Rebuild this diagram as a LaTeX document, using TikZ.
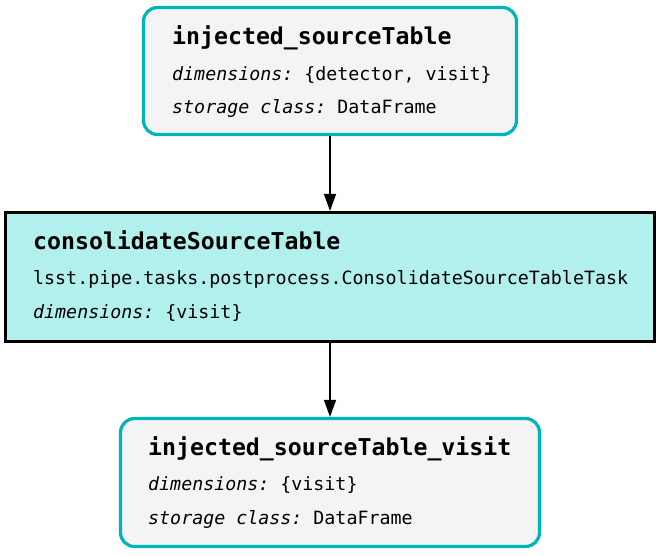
\documentclass[tikz,border=0pt]{standalone}
\usepackage{fontspec}
\setmonofont{DejaVu Sans Mono}
\usetikzlibrary{arrows.meta}
\definecolor{dsedge}{RGB}{0,181,186}
\definecolor{dsfill}{RGB}{244,244,244}
\definecolor{taskfill}{RGB}{178,240,238}

\begin{document}
\begin{tikzpicture}[x=1pt,y=-1pt]
				\tikzset{dataset/.style={draw=dsedge,fill=dsfill,line width=3.2pt,rounded corners=14pt,inner sep=0pt}}
				\tikzset{task/.style={draw=black,fill=taskfill,line width=3.2pt,inner sep=0pt}}
				\tikzset{title/.style={anchor=base west,inner sep=0pt,font=\fontsize{23.2}{23}\selectfont\ttfamily\bfseries}}
				\tikzset{info/.style={anchor=base west,inner sep=0pt,font=\fontsize{18.3}{18}\selectfont\ttfamily}}
				\tikzset{edge/.style={-{Triangle[length=17pt,width=12pt]},line width=1.6pt}}
				\useasboundingbox (0,0) rectangle (661,555);
				% boxes
				\node[dataset,minimum width=373pt,minimum height=127pt] (src) at (330,71) {};
				\node[task,minimum width=649pt,minimum height=129pt] (cons) at (330,277) {};
				\node[dataset,minimum width=419pt,minimum height=128pt] (vis) at (330,482.5) {};
				% texts
				\node[title] (srcname) at (172,44) {injected\_sourceTable};
				\node[info] (srcdim) at (172,80) {\textit{dimensions:} \{detector, visit\}};
				\node[info] (srcsc) at (172,113) {\textit{storage class:} DataFrame};
				\node[title] (consname) at (33,249) {consolidateSourceTable};
				\node[info] (conscls) at (33,284) {lsst.pipe.tasks.postprocess.ConsolidateSourceTableTask};
				\node[info] (consdim) at (33,318) {\textit{dimensions:} \{visit\}};
				\node[title] (visname) at (148,455) {injected\_sourceTable\_visit};
				\node[info] (visdim) at (148,490) {\textit{dimensions:} \{visit\}};
				\node[info] (vissc) at (148,524) {\textit{storage class:} DataFrame};
				% edges
				\draw[edge] (src) -- (cons);
				\draw[edge] (cons) -- (vis);
\end{tikzpicture}
\end{document}
